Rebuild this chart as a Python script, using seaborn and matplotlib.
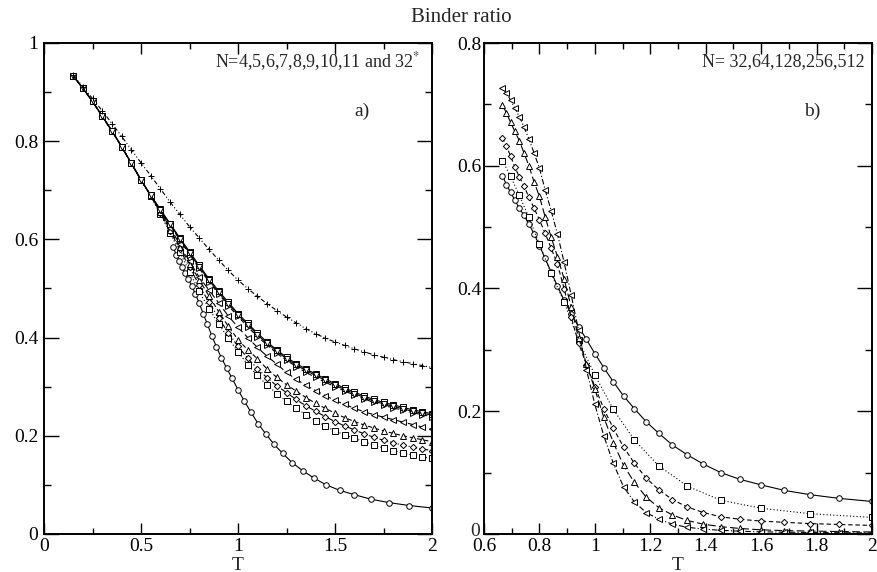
import matplotlib
matplotlib.use("Agg")
import matplotlib.pyplot as plt
from matplotlib.ticker import MultipleLocator, FuncFormatter
import seaborn as sns
import pandas as pd

# ---------------- data: panel a) ----------------
T_a = [0.15, 0.20, 0.25, 0.30, 0.35, 0.40, 0.45, 0.50, 0.55, 0.60, 0.65, 0.70, 0.75,
       0.80, 0.85, 0.90, 0.95, 1.00, 1.05, 1.10, 1.15, 1.20, 1.25, 1.30, 1.35, 1.40,
       1.45, 1.50, 1.55, 1.60, 1.65, 1.70, 1.75, 1.80, 1.85, 1.90, 1.95, 2.00]

a_plus = [0.935, 0.911, 0.887, 0.862, 0.836, 0.810, 0.783, 0.756, 0.730, 0.703, 0.676,
          0.651, 0.626, 0.603, 0.580, 0.558, 0.537, 0.517, 0.500, 0.484, 0.469, 0.455,
          0.442, 0.430, 0.418, 0.408, 0.399, 0.391, 0.384, 0.377, 0.371, 0.365, 0.360,
          0.355, 0.351, 0.347, 0.343, 0.339]
a_cluster_v = [0.933, 0.908, 0.881, 0.851, 0.821, 0.789, 0.755, 0.721, 0.690, 0.660, 0.631,
               0.601, 0.572, 0.544, 0.517, 0.492, 0.469, 0.446, 0.426, 0.406, 0.388, 0.372,
               0.357, 0.344, 0.333, 0.323, 0.313, 0.303, 0.294, 0.286, 0.278, 0.271, 0.265,
               0.260, 0.255, 0.250, 0.246, 0.242]
a_cluster_r = [0.933, 0.908, 0.881, 0.851, 0.821, 0.789, 0.755, 0.721, 0.689, 0.659, 0.629,
               0.599, 0.569, 0.541, 0.514, 0.489, 0.465, 0.443, 0.422, 0.402, 0.385, 0.368,
               0.354, 0.341, 0.329, 0.319, 0.309, 0.300, 0.291, 0.283, 0.275, 0.268, 0.262,
               0.257, 0.252, 0.247, 0.243, 0.239]
a_cluster_s = [0.933, 0.908, 0.881, 0.851, 0.821, 0.789, 0.755, 0.721, 0.690, 0.661, 0.632,
               0.603, 0.575, 0.547, 0.520, 0.495, 0.472, 0.449, 0.429, 0.409, 0.391, 0.375,
               0.360, 0.347, 0.336, 0.326, 0.316, 0.306, 0.297, 0.289, 0.281, 0.274, 0.268,
               0.263, 0.258, 0.253, 0.249, 0.245]
a_ltri = [0.933, 0.908, 0.881, 0.851, 0.821, 0.789, 0.755, 0.721, 0.689, 0.657, 0.624,
          0.590, 0.555, 0.523, 0.497, 0.471, 0.444, 0.421, 0.400, 0.380, 0.362, 0.346,
          0.329, 0.315, 0.303, 0.292, 0.282, 0.272, 0.264, 0.256, 0.249, 0.243, 0.238,
          0.233, 0.228, 0.223, 0.218, 0.213]
a_utri = [0.933, 0.908, 0.881, 0.851, 0.821, 0.789, 0.755, 0.721, 0.689, 0.655, 0.620,
          0.585, 0.550, 0.518, 0.485, 0.453, 0.423, 0.396, 0.375, 0.357, 0.336, 0.319,
          0.304, 0.291, 0.278, 0.266, 0.256, 0.246, 0.237, 0.229, 0.222, 0.216, 0.210,
          0.205, 0.200, 0.196, 0.192, 0.188]
a_diam = [0.933, 0.908, 0.881, 0.851, 0.821, 0.789, 0.755, 0.721, 0.689, 0.653, 0.617,
          0.580, 0.543, 0.507, 0.472, 0.440, 0.410, 0.382, 0.358, 0.337, 0.318, 0.302,
          0.288, 0.274, 0.261, 0.250, 0.239, 0.229, 0.220, 0.212, 0.204, 0.197, 0.191,
          0.186, 0.181, 0.177, 0.173, 0.170]
a_sq = [0.933, 0.908, 0.881, 0.851, 0.821, 0.789, 0.755, 0.721, 0.688, 0.651, 0.613,
        0.574, 0.534, 0.494, 0.459, 0.428, 0.399, 0.371, 0.345, 0.323, 0.303, 0.286,
        0.270, 0.256, 0.243, 0.231, 0.220, 0.210, 0.202, 0.195, 0.188, 0.181, 0.175,
        0.170, 0.165, 0.161, 0.157, 0.154]

# ---------------- data: panel b) ----------------
T_b = [0.6667, 0.6809, 0.6957, 0.7111, 0.7273, 0.7442, 0.7619, 0.7805, 0.8000, 0.8205,
       0.8421, 0.8649, 0.8889, 0.9143, 0.9412, 0.9697, 1.0000, 1.0323, 1.0667, 1.1034,
       1.1429, 1.1852, 1.2308, 1.2800, 1.3333, 1.3913, 1.4545, 1.5238, 1.6000, 1.6842,
       1.7778, 1.8824, 2.0000]
b_N32 = [0.584, 0.569, 0.557, 0.544, 0.531, 0.519, 0.505, 0.489, 0.470, 0.449, 0.427,
         0.404, 0.381, 0.359, 0.338, 0.317, 0.294, 0.271, 0.248, 0.225, 0.204, 0.183,
         0.164, 0.145, 0.129, 0.114, 0.100, 0.089, 0.080, 0.071, 0.064, 0.058, 0.053]
T_b64 = [0.6667, 0.6957, 0.7273, 0.7619, 0.8000, 0.8421, 0.8889, 0.9412, 1.0000, 1.0667,
         1.1429, 1.2308, 1.3333, 1.4545, 1.6000, 1.7778, 2.0000]
b_N64 = [0.608, 0.583, 0.552, 0.516, 0.472, 0.425, 0.378, 0.316, 0.259, 0.203, 0.153,
         0.111, 0.078, 0.055, 0.042, 0.033, 0.027]
b_N128 = [0.646, 0.632, 0.616, 0.598, 0.582, 0.567, 0.549, 0.531, 0.512, 0.490, 0.466,
          0.440, 0.400, 0.354, 0.311, 0.276, 0.240, 0.204, 0.172, 0.142, 0.115, 0.091,
          0.072, 0.056, 0.044, 0.035, 0.028, 0.024, 0.021, 0.019, 0.017, 0.0155, 0.014]
b_N256 = [0.699, 0.686, 0.671, 0.656, 0.641, 0.621, 0.600, 0.574, 0.550, 0.517, 0.484,
          0.452, 0.416, 0.370, 0.320, 0.277, 0.236, 0.190, 0.149, 0.112, 0.084, 0.060,
          0.043, 0.031, 0.022, 0.016, 0.012, 0.009, 0.0068, 0.0055, 0.0048, 0.0040, 0.0033]
b_N512 = [0.727, 0.718, 0.707, 0.694, 0.680, 0.663, 0.644, 0.621, 0.596, 0.561, 0.527,
          0.489, 0.443, 0.390, 0.332, 0.268, 0.211, 0.160, 0.115, 0.077, 0.052, 0.035,
          0.024, 0.016, 0.011, 0.008, 0.006, 0.0045, 0.0035, 0.0030, 0.0025, 0.0020, 0.0018]

# ---------------- style ----------------
sns.set_theme(style="ticks")
plt.rcParams["font.family"] = ["Liberation Serif", "DejaVu Serif"]
plt.rcParams["mathtext.fontset"] = "stix"

W, H = 877, 572
fig = plt.figure(figsize=(W / 100, H / 100), dpi=100)
fig.patch.set_facecolor("white")
ax1 = fig.add_axes([44 / W, 38 / H, 388 / W, 491 / H])
ax2 = fig.add_axes([484 / W, 38 / H, 388 / W, 491 / H])

SOLID = "-"
DOT = (0, (1, 2))
DASH = (0, (4, 2.5))
LDASH = (0, (7, 3))
DASHDOT = (0, (5, 2, 1, 2))
DASHDOT2 = (0, (4, 2, 1, 2, 1, 2))


def draw(ax, x, y, marker, ls, ms=4.0):
    df = pd.DataFrame({"T": x, "B": y})
    sns.lineplot(data=df, x="T", y="B", ax=ax, color="black", linewidth=0.8,
                 linestyle=ls, marker=marker, markersize=ms,
                 markerfacecolor="white", markeredgecolor="black",
                 markeredgewidth=0.7, errorbar=None, legend=False)


# panel a)
draw(ax1, T_b, b_N32, "o", SOLID)
draw(ax1, T_a, a_sq, "s", DOT, 3.8)
draw(ax1, T_a, a_diam, "D", DASHDOT, 3.2)
draw(ax1, T_a, a_utri, "^", DASH)
draw(ax1, T_a, a_ltri, "<", LDASH)
draw(ax1, T_a, a_cluster_r, ">", DASH)
draw(ax1, T_a, a_cluster_s, "s", SOLID, 3.8)
draw(ax1, T_a, a_cluster_v, "v", SOLID)
draw(ax1, T_a, a_plus, "+", DASHDOT2, 4.5)

# panel b)
draw(ax2, T_b, b_N32, "o", SOLID)
draw(ax2, T_b64, b_N64, "s", DOT, 3.8)
draw(ax2, T_b, b_N128, "D", DASH, 3.2)
draw(ax2, T_b, b_N256, "^", LDASH)
draw(ax2, T_b, b_N512, "<", DASHDOT)

fmt = FuncFormatter(lambda v, p: "%g" % round(v, 3))
fmt_b_y = FuncFormatter(lambda v, p: "" if abs(v) < 1e-9 else "%g" % round(v, 3))
for ax in (ax1, ax2):
    ax.set_facecolor("white")
    for s in ax.spines.values():
        s.set_linewidth(1.4)
        s.set_color("black")
    ax.tick_params(axis="both", which="both", direction="in", top=True, right=True,
                   color="black", width=1.0, labelsize=14, labelcolor="black")
    ax.tick_params(axis="x", which="major", length=8, pad=3)
    ax.tick_params(axis="x", which="minor", length=4.5)
    ax.tick_params(axis="y", which="major", length=11, pad=4)
    ax.tick_params(axis="y", which="minor", length=5)
    ax.xaxis.set_major_formatter(fmt)
    ax.set_xlabel("T", fontsize=14, labelpad=1)
    ax.set_ylabel("")

ax1.yaxis.set_major_formatter(fmt)
ax2.yaxis.set_major_formatter(fmt_b_y)

ax1.set_xlim(0, 2)
ax1.set_ylim(0, 1)
ax1.xaxis.set_major_locator(MultipleLocator(0.5))
ax1.xaxis.set_minor_locator(MultipleLocator(0.25))
ax1.yaxis.set_major_locator(MultipleLocator(0.2))
ax1.yaxis.set_minor_locator(MultipleLocator(0.1))

ax2.set_xlim(0.6, 2)
ax2.set_ylim(0, 0.8)
ax2.xaxis.set_major_locator(MultipleLocator(0.2))
ax2.xaxis.set_minor_locator(MultipleLocator(0.1))
ax2.yaxis.set_major_locator(MultipleLocator(0.2))
ax2.yaxis.set_minor_locator(MultipleLocator(0.1))
ax2.tick_params(axis="y", which="major", pad=2)

# the "0" of panel b)'s y axis, nudged a little up so it clears the 0.6 below it
ax2.text(-0.01, 0.006, "0", transform=ax2.transAxes, ha="right", va="center", fontsize=14)

ax1.text(0.969, 0.962, r"N=4,5,6,7,8,9,10,11 and 32$^{*}$", transform=ax1.transAxes,
         ha="right", va="center", fontsize=13)
ax1.text(0.82, 0.861, "a)", transform=ax1.transAxes, ha="center", va="center", fontsize=14)
ax2.text(0.982, 0.962, "N= 32,64,128,256,512", transform=ax2.transAxes,
         ha="right", va="center", fontsize=13)
ax2.text(0.845, 0.861, "b)", transform=ax2.transAxes, ha="center", va="center", fontsize=14)

fig.text(461 / W, 1 - 17 / H, "Binder ratio", ha="center", va="center", fontsize=15)

fig.savefig("out.png", dpi=100, facecolor="white")
